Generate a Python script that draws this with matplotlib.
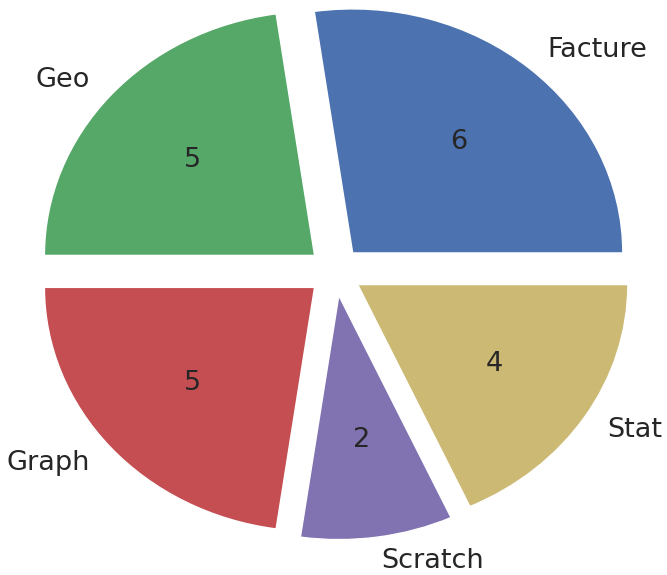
import numpy as np
import matplotlib
matplotlib.use('Agg')
import matplotlib.pyplot as plt
import seaborn as sns

sns.set_theme(style='white')
plt.rcParams['font.family'] = ['DejaVu Sans']

labels = ['Facture', 'Geo', 'Graph', 'Scratch', 'Stat']
counts = [6, 5, 5, 2, 4]
# old seaborn "deep" colours
colors = ['#4C72B0', '#55A868', '#C44E52', '#8172B2', '#CCB974']

total = sum(counts)

def show_count(p):
	return '{:.0f}'.format(p * total / 100.0)

fig = plt.figure(figsize=(6.67, 5.75), dpi=100)
ax = fig.add_axes([0, 0, 1, 1])
wedges, texts, autotexts = ax.pie(counts, labels=labels, colors=colors,
	explode=[0.1] * len(counts), autopct=show_count,
	textprops={'fontsize': 19.5, 'color': '#262626'})

# the original is not drawn with an equal aspect
ax.set_xlim(-1.240, 1.229)
ax.set_ylim(-1.244, 1.112)
ax.set_aspect('auto')

fig.savefig('out.png', dpi=100)
